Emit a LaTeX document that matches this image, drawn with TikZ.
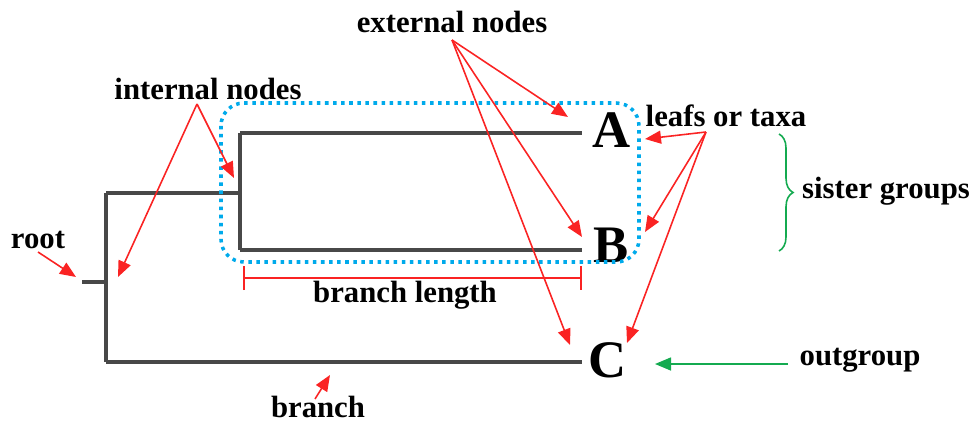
\documentclass[tikz,border=0pt]{standalone}
\usepackage{fontspec}
\setmainfont{Liberation Serif}
\usetikzlibrary{positioning,arrows.meta,decorations.pathreplacing}
\usepackage{xcolor}
\definecolor{TreeGray}{RGB}{72,72,72}
\definecolor{NoteRed}{RGB}{250,35,35}
\definecolor{NoteGreen}{RGB}{20,170,80}
\definecolor{CladeBlue}{RGB}{0,170,235}

\begin{document}
\begin{tikzpicture}[
x=0.02cm,y=-0.02cm,
tree/.style={line width=2.2pt,draw=TreeGray},
taxon/.style={font=\fontsize{30}{32}\selectfont\bfseries,inner sep=0pt},
note/.style={font=\fontsize{17.5}{20}\selectfont\bfseries,inner sep=1pt},
arrow/.style={-{Triangle[length=3.2mm,width=2.6mm]},line width=0.9pt,draw=NoteRed},
garrow/.style={-{Triangle[length=3.2mm,width=2.6mm]},line width=0.9pt,draw=NoteGreen}
]
\useasboundingbox (0,0) rectangle (978,423);
% tree
\coordinate (r0) at (82,282);
\coordinate (r) at (106,282);
\coordinate (top) at (106,193);
\coordinate (bot) at (106,362);
\coordinate (n1) at (240,193);
\coordinate (n1a) at (240,133);
\coordinate (n1b) at (240,250);
\coordinate (ea) at (582,133);
\coordinate (eb) at (582,250);
\coordinate (ec) at (582,362);
\draw[tree] (r0) -- (r);
\draw[tree] (top) -- (bot);
\draw[tree] (top) -- (n1);
\draw[tree] (n1a) -- (n1b);
\draw[tree] (n1a) -- (ea);
\draw[tree] (n1b) -- (eb);
\draw[tree] (bot) -- (ec);
\node[taxon] (A) at (612,130) {A};
\node[taxon] (B) at (611,245) {B};
\node[taxon] (C) at (608,360) {C};
% clade box
\draw[CladeBlue,line width=2pt,dash pattern=on 2pt off 2.6pt,rounded corners=13pt]
  (221,103) rectangle (639,262);
% branch length
\coordinate (bl1) at (243,278);
\coordinate (bl2) at (582,278);
\draw[NoteRed,line width=0.9pt,{Bar[width=4.8mm]}-{Bar[width=4.8mm]}] (bl1) -- (bl2);
\node[note] (blen) at (405,295) {branch length};
% labels
\node[note] (ext) at (452,22) {external nodes};
\node[note] (int) at (208,89) {internal nodes};
\node[note] (root) at (38,240) {root};
\node[note] (br) at (318,407) {branch};
\node[note] (leaf) at (726,116) {leafs or taxa};
\node[note] (sis) at (886,191) {sister groups};
\node[note] (out) at (860,360) {outgroup};
% arrows
\coordinate (extp) at (452,40);
\coordinate (intp) at (197,104);
\coordinate (leafp) at (706,132);
\draw[arrow] (extp) -- (568,117);
\draw[arrow] (extp) -- (582,237);
\draw[arrow] (extp) -- (570,345);
\draw[arrow] (intp) -- (234,178);
\draw[arrow] (intp) -- (118,277);
\draw[arrow] (38,252) -- (76,277);
\draw[arrow] (leafp) -- (645,139);
\draw[arrow] (leafp) -- (645,232);
\draw[arrow] (leafp) -- (627,343);
\draw[arrow] (315,399) -- (330,375);
\draw[garrow] (788,364) -- (655,364);
% sister groups brace
\draw[NoteGreen,line width=0.9pt,decorate,decoration={brace,amplitude=8pt}]
  (779,134) -- (779,251);
\end{tikzpicture}
\end{document}
